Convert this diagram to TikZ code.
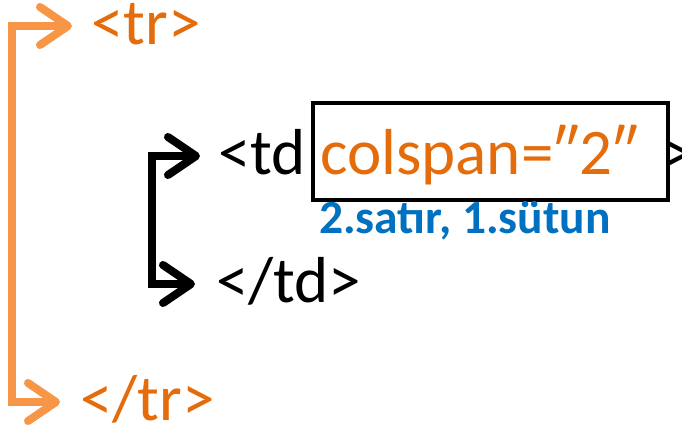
\documentclass[tikz,border=0pt]{standalone}
\usepackage{fontspec}
\setmainfont{Carlito}
\usetikzlibrary{arrows.meta}
\definecolor{txtorange}{RGB}{228,108,10}
\definecolor{arrorange}{RGB}{247,150,70}
\definecolor{lblblue}{RGB}{0,112,192}
\tikzset{
  bigtxt/.style={anchor=base west, inner sep=0pt, font=\fontsize{65}{72}\selectfont},
  smalltxt/.style={anchor=base west, inner sep=0pt, font=\fontsize{47.5}{54}\selectfont\bfseries, text=lblblue},
  bracket/.style={line width=8pt, line join=miter,
    {Straight Barb[length=28pt,width=38pt,round]}-{Straight Barb[length=28pt,width=38pt,round]}},
  framebox/.style={draw=black, line width=4pt, inner sep=0pt}
}
\begin{document}
\begin{tikzpicture}[x=1pt,y=-1pt]
\useasboundingbox (0,0) rectangle (682,428);
% texts
\node[bigtxt, text=txtorange] (tr) at (91,45) {<tr>};
\node[bigtxt, text=txtorange] (trend) at (80,420) {</tr>};
\node[bigtxt] (td) at (218,174) {<td};
\node[bigtxt, text=txtorange] (colspan) at (320,174) {colspan=\char"2033 2\char"2033};
\node[framebox, minimum width=355pt, minimum height=97pt] (box) at (490.5,151.5) {};
\node[bigtxt] (gt) at (661,174) {>};
\node[bigtxt] (tdend) at (216,302) {</td>};
\node[smalltxt] (lbl) at (319,233) {2.satır, 1.sütun};
% connector coordinates
\coordinate (trtip) at ([xshift=-19pt]tr.west |- 0,26);
\coordinate (trendtip) at ([xshift=-20pt]trend.west |- 0,402);
\coordinate (ol) at (12,200);
\coordinate (tdtip) at ([xshift=-18pt]td.west |- 0,156);
\coordinate (tdendtip) at ([xshift=-21pt]tdend.west |- 0,284);
\coordinate (bl) at (152,220);
% brackets
\draw[bracket, draw=arrorange] (trtip) -| (ol) |- (trendtip);
\draw[bracket, draw=black] (tdtip) -| (bl) |- (tdendtip);
\end{tikzpicture}
\end{document}
